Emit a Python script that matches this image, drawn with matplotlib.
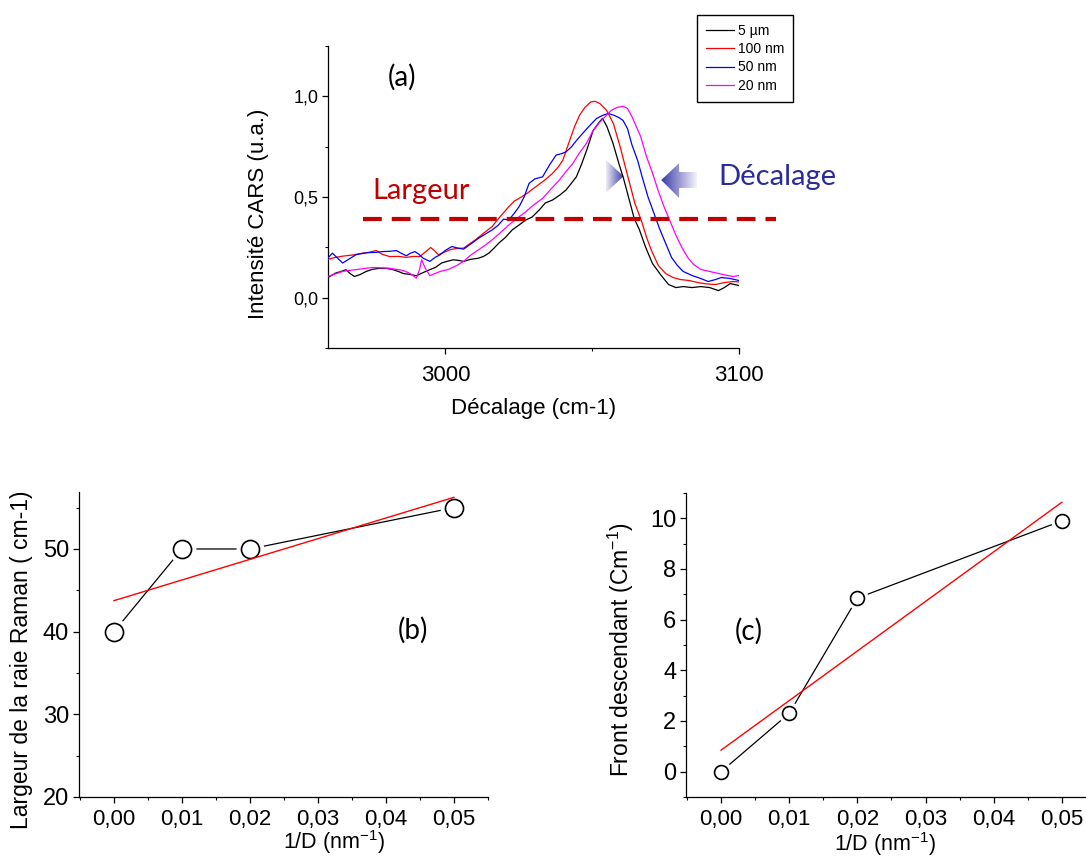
import numpy as np
import matplotlib as mpl
mpl.use('Agg')
from matplotlib import pyplot as plt
from matplotlib.ticker import MultipleLocator, FuncFormatter
from matplotlib.patches import Polygon
from matplotlib.colors import LinearSegmentedColormap

plt.rcParams['font.family'] = ['Liberation Sans', 'DejaVu Sans']
plt.rcParams['mathtext.fontset'] = 'custom'
plt.rcParams['mathtext.rm'] = 'Liberation Sans'
plt.rcParams['mathtext.default'] = 'regular'

# (a) CARS spectra, shift in cm-1
black_x = [2960, 2962.6, 2964.5, 2966.1, 2967.5, 2969, 2971, 2973, 2975, 2977.5, 2980, 2982.1, 2984,
           2985.6, 2988, 2990.1, 2992.5, 2994.7, 2996.6, 2998.7, 3000.5, 3002.7, 3004.5, 3006.2, 3008.5,
           3011.3, 3013, 3014.8, 3016.5, 3018.2, 3020.5, 3022.8, 3025, 3027.4, 3029.5, 3032, 3034,
           3036.5, 3039, 3041.1, 3043, 3044.6, 3046.3, 3048.3, 3050.3, 3052.3, 3053.5, 3055, 3057,
           3059, 3060.7, 3062.9, 3064.3, 3066, 3068.2, 3070.5, 3073.5, 3076, 3078.5, 3081, 3084,
           3087, 3090, 3093, 3095, 3097, 3100]
black_y = [0.10, 0.122, 0.13, 0.139, 0.12, 0.105, 0.115, 0.13, 0.14, 0.146, 0.145, 0.139, 0.13,
           0.12, 0.115, 0.109, 0.125, 0.139, 0.15, 0.172, 0.18, 0.188, 0.185, 0.18, 0.19,
           0.196, 0.205, 0.221, 0.245, 0.271, 0.30, 0.337, 0.36, 0.386, 0.40, 0.436, 0.47,
           0.485, 0.51, 0.535, 0.57, 0.60, 0.66, 0.74, 0.83, 0.87, 0.89, 0.85, 0.77,
           0.67, 0.59, 0.47, 0.393, 0.34, 0.25, 0.17, 0.11, 0.065, 0.05, 0.055, 0.05,
           0.055, 0.05, 0.035, 0.05, 0.07, 0.06]

red_x = [2960, 2962.5, 2965, 2968.5, 2971.8, 2974, 2976.4, 2978.5, 2981, 2984, 2986.7, 2989, 2991.3,
         2993, 2995, 2996.5, 2997.6, 2999.5, 3001.6, 3004, 3006.2, 3008, 3010.2, 3013, 3015.9,
         3018.5, 3021.6, 3023.5, 3025.1, 3028, 3030.8, 3033.5, 3036.5, 3038.5, 3040, 3042.3, 3044,
         3045.7, 3047.5, 3049.5, 3051, 3052.6, 3054.9, 3057.2, 3059.5, 3061.8, 3064.5, 3066.8,
         3068.5, 3070, 3072.5, 3075, 3077.5, 3080, 3083, 3086, 3089, 3092, 3095, 3098, 3100]
red_y = [0.19, 0.20, 0.206, 0.212, 0.221, 0.225, 0.234, 0.215, 0.204, 0.205, 0.20, 0.205, 0.204,
         0.225, 0.249, 0.23, 0.213, 0.225, 0.238, 0.245, 0.246, 0.265, 0.287, 0.32, 0.353,
         0.40, 0.452, 0.48, 0.493, 0.52, 0.551, 0.58, 0.617, 0.65, 0.683, 0.78, 0.85,
         0.906, 0.945, 0.972, 0.975, 0.964, 0.93, 0.865, 0.75, 0.62, 0.47, 0.38,
         0.30, 0.24, 0.16, 0.12, 0.10, 0.09, 0.085, 0.075, 0.068, 0.065, 0.075, 0.08, 0.078]

blue_x = [2959.2, 2960.5, 2961.5, 2963, 2965, 2967, 2969.5, 2972, 2974.1, 2976.5, 2978.7, 2981,
          2983.3, 2985, 2986.7, 2988, 2989.6, 2991, 2992.4, 2994.7, 2996.5, 2998.2, 3000, 3002.2,
          3004.5, 3006.2, 3008.5, 3011.3, 3013.5, 3015.9, 3018, 3019.8, 3021.6, 3023.5, 3025.1,
          3026.8, 3028.5, 3030.5, 3033.1, 3035.5, 3037.7, 3039.5, 3041.1, 3043, 3044.6, 3047,
          3049.5, 3051.5, 3053.5, 3055.5, 3057.5, 3059, 3060.5, 3062, 3063.5, 3065.5, 3067, 3069,
          3071, 3073, 3075, 3077, 3079, 3081, 3084, 3087, 3089.5, 3092, 3094, 3097, 3100]
blue_y = [0.183, 0.205, 0.221, 0.20, 0.172, 0.19, 0.213, 0.22, 0.224, 0.225, 0.229, 0.23,
          0.234, 0.22, 0.208, 0.22, 0.229, 0.215, 0.196, 0.18, 0.20, 0.213, 0.235, 0.254,
          0.245, 0.241, 0.265, 0.295, 0.315, 0.336, 0.36, 0.39, 0.386, 0.42, 0.452,
          0.50, 0.568, 0.59, 0.60, 0.66, 0.708, 0.715, 0.724, 0.75, 0.78, 0.82,
          0.86, 0.89, 0.905, 0.915, 0.905, 0.895, 0.88, 0.84, 0.76, 0.68, 0.60, 0.50,
          0.42, 0.34, 0.27, 0.20, 0.16, 0.13, 0.11, 0.095, 0.08, 0.09, 0.10, 0.095, 0.085]

mag_x = [2959.2, 2962, 2965, 2967, 2969.5, 2972.5, 2975.3, 2978, 2981, 2983.5, 2985.6, 2988, 2990.1,
         2991.2, 2991.9, 2993, 2994.7, 2996.5, 2998.2, 3001, 3003.9, 3006.2, 3008.5, 3011.3, 3013.5,
         3015.9, 3018.5, 3021.6, 3024.5, 3027.4, 3030, 3033.1, 3036, 3038.8, 3041, 3043.4, 3045.7,
         3048, 3050.3, 3052.5, 3054.5, 3056.5, 3058.5, 3060.5, 3062, 3063.5, 3065, 3066.5, 3068.5,
         3070.5, 3072.5, 3074.5, 3076.5, 3078.5, 3080.5, 3082.5, 3084.5, 3087, 3090, 3093, 3096,
         3098, 3100]
mag_y = [0.102, 0.115, 0.13, 0.135, 0.139, 0.145, 0.15, 0.148, 0.146, 0.14, 0.135, 0.12, 0.097,
         0.14, 0.188, 0.15, 0.109, 0.12, 0.13, 0.14, 0.16, 0.18, 0.21, 0.238, 0.26,
         0.287, 0.32, 0.361, 0.395, 0.427, 0.46, 0.493, 0.54, 0.584, 0.625, 0.667, 0.72,
         0.766, 0.83, 0.87, 0.90, 0.93, 0.945, 0.95, 0.94, 0.90, 0.85, 0.80, 0.70,
         0.62, 0.53, 0.45, 0.38, 0.31, 0.25, 0.20, 0.165, 0.14, 0.13, 0.12, 0.11,
         0.105, 0.11]

series_labels = ['5 µm', '100 nm', '50 nm', '20 nm']

# (b) and (c) vs 1/D
inv_d = [0.0, 0.01, 0.02, 0.05]
largeur = [40, 50, 50, 55]
front = [0.0, 2.3, 6.85, 9.9]


def comma(fmt):
    return FuncFormatter(lambda v, pos: fmt.format(v).replace('.', ','))


def style_axes(ax, tick_fs_x, tick_fs_y):
    for s in ['top', 'right']:
        ax.spines[s].set_visible(False)
    for s in ['left', 'bottom']:
        ax.spines[s].set_linewidth(0.9)
    ax.tick_params(which='major', direction='out', length=4, width=0.9)
    ax.tick_params(which='minor', direction='out', length=2.5, width=0.8)
    ax.tick_params(axis='x', labelsize=tick_fs_x, pad=6)
    ax.tick_params(axis='y', labelsize=tick_fs_y, pad=3)


def gradient_poly(ax, verts, light, dark, dark_right=True):
    xs = [v[0] for v in verts]
    ys = [v[1] for v in verts]
    poly = Polygon(verts, closed=True, transform=ax.transData)
    cmap = LinearSegmentedColormap.from_list('g', [light, dark] if dark_right else [dark, light])
    grad = np.linspace(0, 1, 256).reshape(1, -1)
    im = ax.imshow(grad, extent=(min(xs), max(xs), min(ys), max(ys)), aspect='auto',
                   cmap=cmap, interpolation='bilinear', zorder=1, origin='lower')
    im.set_clip_path(poly)


fig = plt.figure(figsize=(10.86, 8.59), dpi=100)

# ---- (a)
ax = fig.add_axes([0.302, 0.5949, 0.3785, 0.3516])
lines = []
for xs, ys, c in [(black_x, black_y, 'black'), (red_x, red_y, 'red'),
                  (blue_x, blue_y, 'blue'), (mag_x, mag_y, 'magenta')]:
    ln, = ax.plot(xs, ys, color=c, lw=0.9, zorder=3)
    lines.append(ln)

gradient_poly(ax, [(3054.6, 0.685), (3054.6, 0.521), (3060.7, 0.603)], '#eeeef8', '#3a3aa8', True)
gradient_poly(ax, [(3073.5, 0.584), (3079.6, 0.668), (3079.6, 0.624), (3085.7, 0.624),
                   (3085.7, 0.545), (3079.6, 0.545), (3079.6, 0.495)], '#f4f4fb', '#3a3aa8', False)

ax.plot([2971.8, 3112.7], [0.393, 0.393], color='#c00000', lw=3, dashes=(4.5, 2.4),
        clip_on=False, zorder=5)

ax.set_xlim(2960, 3100)
ax.set_ylim(-0.25, 1.25)
ax.xaxis.set_major_locator(MultipleLocator(100))
ax.xaxis.set_minor_locator(MultipleLocator(50))
ax.yaxis.set_major_locator(MultipleLocator(0.5))
ax.yaxis.set_minor_locator(MultipleLocator(0.25))
ax.yaxis.set_major_formatter(comma('{:.1f}'))
style_axes(ax, 16, 13)
ax.tick_params(axis='x', pad=8)
ax.set_xlabel('Décalage (cm-1)', fontsize=16)
ax.xaxis.set_label_coords(0.5, -0.166)
ax.set_ylabel('Intensité CARS (u.a.)', fontsize=16)
ax.yaxis.set_label_coords(-0.143, 0.444)

ax.text(2985.1, 1.096, '(a)', fontsize=20, family='Lato', ha='center', va='center')
ax.text(2975, 0.53, 'Largeur', fontsize=21, family='Lato', color='#c00000', va='center')
ax.text(3093.1, 0.6, 'Décalage', fontsize=21, family='Lato', color='#2b2b9c', va='center')

fig.legend(lines, series_labels, loc='upper left', bbox_to_anchor=(697 / 1086, 1 - 15 / 859),
           borderaxespad=0, fontsize=10, frameon=True, fancybox=False, edgecolor='black',
           framealpha=1, handlelength=2.0, handletextpad=0.3, labelspacing=0.3,
           borderpad=0.65)

# ---- (b)
axb = fig.add_axes([0.0727, 0.0722, 0.3766, 0.3551])
axb.plot(inv_d, largeur, color='black', lw=0.9, zorder=2)
axb.plot(inv_d, largeur, 'o', ms=19, mfc='white', mec='white', zorder=3)
axb.plot(inv_d, largeur, 'o', ms=13, mfc='white', mec='black', mew=1.2, zorder=4)
kb = np.polyfit(inv_d, largeur, 1)
fx = np.array([min(inv_d), max(inv_d)])
axb.plot(fx, np.polyval(kb, fx), color='red', lw=1, zorder=5)
axb.set_xlim(-0.00515, 0.055)
axb.set_ylim(20, 56.9)
axb.xaxis.set_major_locator(MultipleLocator(0.01))
axb.xaxis.set_minor_locator(MultipleLocator(0.005))
axb.yaxis.set_major_locator(MultipleLocator(10))
axb.yaxis.set_minor_locator(MultipleLocator(5))
axb.xaxis.set_major_formatter(comma('{:.2f}'))
style_axes(axb, 16, 17)
axb.tick_params(axis='x', pad=5)
axb.set_xlabel('1/D (nm$^{-1}$)', fontsize=15.5)
axb.xaxis.set_label_coords(0.623, -0.103)
axb.set_ylabel('Largeur de la raie Raman ( cm-1)', fontsize=16.5)
axb.yaxis.set_label_coords(-0.112, 0.449)
axb.text(0.044, 40.2, '(b)', fontsize=20, family='Lato', ha='center', va='center')

# ---- (c)
axc = fig.add_axes([0.6317, 0.0722, 0.3674, 0.3539])
axc.plot(inv_d, front, color='black', lw=0.9, zorder=2)
axc.plot(inv_d, front, 'o', ms=15, mfc='white', mec='white', zorder=3)
axc.plot(inv_d, front, 'o', ms=10, mfc='white', mec='black', mew=1.2, zorder=4)
kc = np.polyfit(inv_d, front, 1)
axc.plot(fx, np.polyval(kc, fx), color='red', lw=1, zorder=5)
axc.set_xlim(-0.00514, 0.0534)
axc.set_ylim(-1, 11)
axc.xaxis.set_major_locator(MultipleLocator(0.01))
axc.xaxis.set_minor_locator(MultipleLocator(0.005))
axc.yaxis.set_major_locator(MultipleLocator(2))
axc.yaxis.set_minor_locator(MultipleLocator(1))
axc.xaxis.set_major_formatter(comma('{:.2f}'))
style_axes(axc, 16, 17)
axc.tick_params(axis='x', pad=5)
axc.set_xlabel('1/D (nm$^{-1}$)', fontsize=15.5)
axc.xaxis.set_label_coords(0.5, -0.108)
axc.set_ylabel('Front descendant (Cm$^{-1}$)', fontsize=16.5)
axc.yaxis.set_label_coords(-0.125, 0.484)
axc.text(0.004, 5.53, '(c)', fontsize=20, family='Lato', ha='center', va='center')

fig.savefig('out.png', dpi=100)
